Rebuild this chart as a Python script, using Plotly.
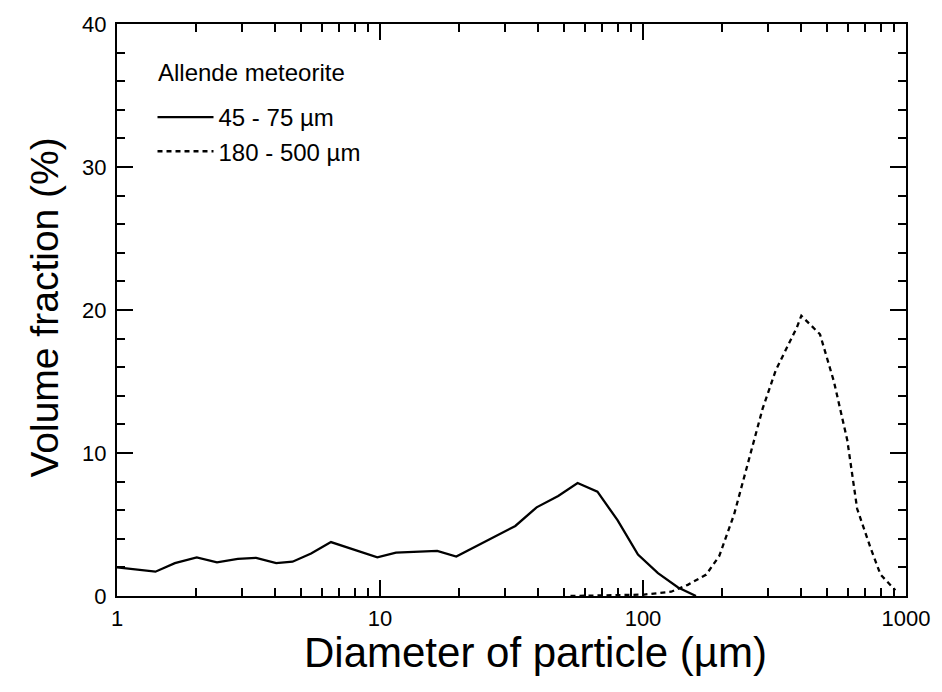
import plotly.graph_objects as go

# Data
solid_x = [1.0, 1.40, 1.66, 2.01, 2.40, 2.88, 3.38, 4.03, 4.65, 5.47, 6.51, 8.09, 9.77,
           11.5, 14.05, 16.5, 19.5, 23.7, 27.8, 32.7, 39.4, 47.6, 56.4, 67.1, 80.0,
           95.7, 114, 136, 159]
solid_y = [2.0, 1.7, 2.3, 2.7, 2.35, 2.6, 2.67, 2.3, 2.4, 2.97, 3.77, 3.2, 2.7,
           3.03, 3.1, 3.15, 2.76, 3.56, 4.18, 4.9, 6.2, 7.0, 7.9, 7.3, 5.3,
           2.9, 1.6, 0.6, 0.0]

dashed_x = [53, 80, 101, 128, 148, 174, 195, 222, 250, 285, 320, 355, 385, 400,
            471, 532, 598, 652, 732, 800, 911]
dashed_y = [0.0, 0.05, 0.1, 0.3, 0.78, 1.5, 2.8, 5.7, 9.2, 13.1, 15.8, 17.5, 18.8, 19.6,
            18.3, 15.0, 10.9, 6.1, 3.4, 1.5, 0.4]

legend_title = "Allende meteorite"
series_names = ["45 - 75 µm", "180 - 500 µm"]
x_title = "Diameter of particle (µm)"
y_title = "Volume fraction (%)"
y_ticks = [0, 10, 20, 30, 40]
x_ticks = [1, 10, 100, 1000]

FONT = "Liberation Sans, Arial, Helvetica, sans-serif"

fig = go.Figure()
fig.add_trace(go.Scatter(x=solid_x, y=solid_y, mode="lines", name=series_names[0],
                         line=dict(color="black", width=2.3)))
fig.add_trace(go.Scatter(x=dashed_x, y=dashed_y, mode="lines", name=series_names[1],
                         line=dict(color="black", width=2.3, dash="5px,4px")))

axis_common = dict(
    showline=True, linecolor="black", linewidth=2, mirror="ticks",
    ticks="inside", ticklen=16, tickwidth=2, tickcolor="black",
    showgrid=False, zeroline=False,
    tickfont=dict(family=FONT, size=22, color="black"),
)

fig.update_xaxes(type="log", range=[0, 3], tickvals=x_ticks,
                 ticktext=[str(v) for v in x_ticks], ticklabelstandoff=2,
                 minor=dict(ticks="inside", ticklen=8, tickwidth=2, tickcolor="black",
                            dtick="D1", showgrid=False),
                 **axis_common)
fig.update_yaxes(range=[0, 40], tickvals=y_ticks, ticklabelstandoff=4,
                 minor=dict(ticks="inside", ticklen=8, tickwidth=2, tickcolor="black",
                            dtick=2, showgrid=False),
                 **axis_common)

fig.add_annotation(text=x_title, xref="paper", yref="paper", x=0.531, y=-0.098,
                   xanchor="center", yanchor="middle", showarrow=False,
                   font=dict(family=FONT, size=42, color="black"))
fig.add_annotation(text=y_title, xref="paper", yref="paper", x=-0.092, y=0.505,
                   xanchor="center", yanchor="middle", showarrow=False, textangle=-90,
                   font=dict(family=FONT, size=39, color="black"))
# legend heading
fig.add_annotation(text=legend_title, xref="paper", yref="paper", x=0.049, y=0.915,
                   xanchor="left", yanchor="middle", showarrow=False,
                   font=dict(family=FONT, size=24, color="black"))

fig.update_layout(
    width=942, height=692,
    margin=dict(l=117, r=34, t=14, b=96),
    paper_bgcolor="white", plot_bgcolor="white",
    showlegend=True,
    legend=dict(font=dict(family=FONT, size=24, color="black"),
                x=0.045, y=0.876, xanchor="left", yanchor="top",
                tracegroupgap=0, itemwidth=56,
                bgcolor="rgba(0,0,0,0)", borderwidth=0),
)

fig.write_html("out.html")
